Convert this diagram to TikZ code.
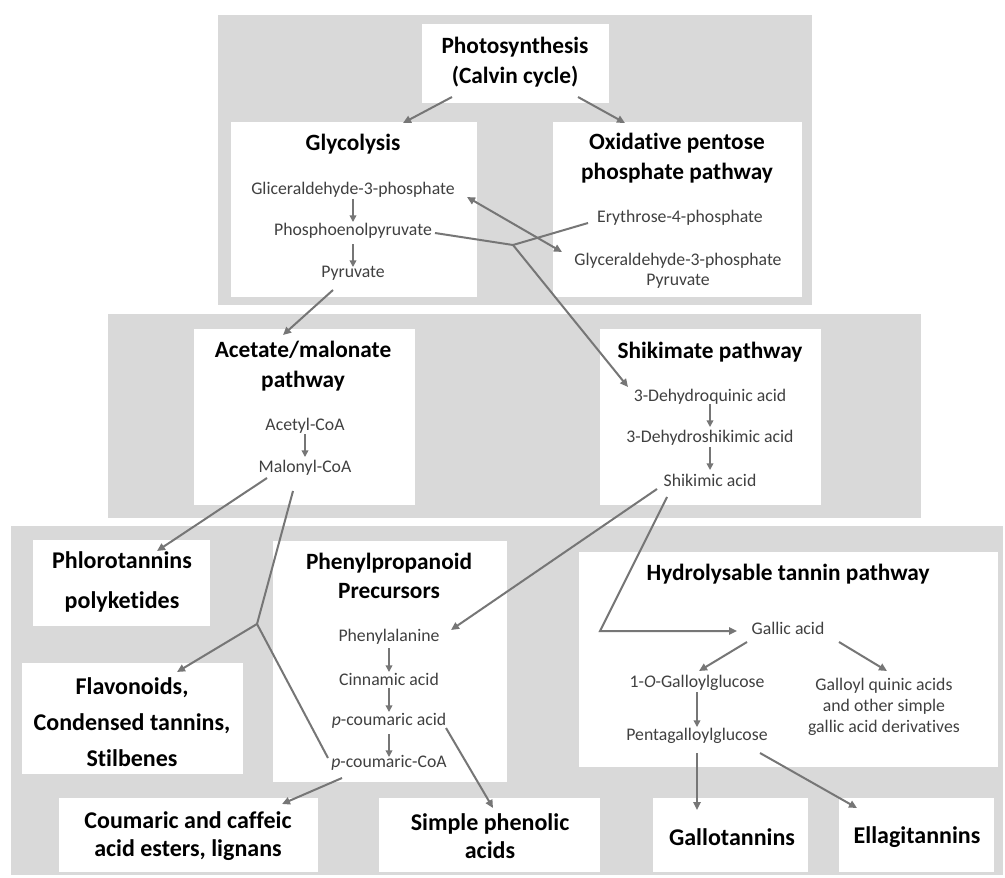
\documentclass[tikz,border=0pt]{standalone}
\usepackage{fontspec}
\setmainfont{Carlito}[RawFeature=-liga]
\usetikzlibrary{arrows.meta, calc}

\definecolor{panelgray}{RGB}{217,217,217}
\definecolor{textgray}{RGB}{64,64,64}
\definecolor{linegray}{RGB}{118,118,118}

\tikzset{
  panel/.style n args={2}{fill=panelgray, inner sep=0pt, minimum width=#1*0.75pt, minimum height=#2*0.75pt},
  wbox/.style n args={2}{fill=white, inner sep=0pt, minimum width=#1*0.75pt, minimum height=#2*0.75pt},
  title/.style={font=\fontsize{17.5}{22}\selectfont\bfseries, align=center, inner sep=0pt},
  endtitle/.style={font=\fontsize{18}{21}\selectfont\bfseries, align=center, inner sep=0pt},
  compound/.style={font=\fontsize{13.3}{15}\selectfont, text=textgray, align=center, inner sep=0pt},
  flow/.style={draw=linegray, line width=1.5pt, -{Triangle[length=6pt,width=5.5pt]}},
  link/.style={draw=linegray, line width=1.5pt},
  stepflow/.style={draw=linegray, line width=1.1pt, -{Triangle[length=5pt,width=5pt]}}
}

\begin{document}
\begin{tikzpicture}[x=0.75pt,y=0.75pt,yscale=-1,xscale=1]
\path[use as bounding box] (0,0) rectangle (1005,877);

% Panels
\node[panel={594}{290}] (toppanel) at (515,160) {};
\node[panel={813}{204}] (midpanel) at (514.5,416) {};
\node[panel={992}{349}] (botpanel) at (507,700.5) {};

% Boxes
\node[wbox={187}{79}] (photobox) at (515.5,63.5) {};
\node[wbox={246}{175}] (glycbox) at (354,209.5) {};
\node[wbox={249}{175}] (oxidbox) at (677.5,209.5) {};
\node[wbox={221}{176}] (acetbox) at (304.5,417) {};
\node[wbox={221}{176}] (shikbox) at (710.5,417) {};
\node[wbox={177}{86}] (phlobox) at (121.5,583) {};
\node[wbox={221}{111}] (flavbox) at (132.5,718.5) {};
\node[wbox={234}{241}] (phenbox) at (390,661.5) {};
\node[wbox={419}{215}] (hydrobox) at (788.5,659.5) {};
\node[wbox={259}{74}] (coumbox) at (188.5,835) {};
\node[wbox={221}{74}] (simpbox) at (489.5,835) {};
\node[wbox={155}{74}] (gallobox) at (730.5,835) {};
\node[wbox={155}{74}] (ellagbox) at (916.5,835) {};

% Titles
\node[title] (phototitle) at (515,62) {Photosynthesis\\(Calvin cycle)};
\node[title] (glyctitle) at (353,144) {Glycolysis};
\node[title] (oxidtitle) at (677,158) {Oxidative pentose\\phosphate pathway};
\node[title] (acettitle) at (303,366) {Acetate/malonate\\pathway};
\node[title] (shiktitle) at (710,352) {Shikimate pathway};
\node[title] (phentitle) at (389,576) {Phenylpropanoid\\Precursors};
\node[title] (hydrotitle) at (788,574) {Hydrolysable tannin pathway};
\node[endtitle, font=\fontsize{18}{30}\selectfont\bfseries] (phlotitle) at (122,582) {Phlorotannins\\polyketides};
\node[endtitle, font=\fontsize{18}{27}\selectfont\bfseries] (flavtitle) at (132,722) {Flavonoids,\\Condensed tannins,\\Stilbenes};
\node[endtitle] (coumtitle) at (188,836) {Coumaric and caffeic\\acid esters, lignans};
\node[endtitle] (simptitle) at (490,836) {Simple phenolic\\acids};
\node[endtitle] (gallotitle) at (732,837) {Gallotannins};
\node[endtitle] (ellagtitle) at (917,837) {Ellagitannins};

% Text Node
\node[compound] (g3p) at (353,190) {Gliceraldehyde-3-phosphate};
\node[compound] (pep) at (353,231) {Phosphoenolpyruvate};
\node[compound] (pyr) at (353,273) {Pyruvate};
\node[compound] (e4p) at (680,218) {Erythrose-4-phosphate};
\node[compound] (g3pb) at (678,271) {Glyceraldehyde-3-phosphate\\Pyruvate};
\node[compound] (acoa) at (305,426) {Acetyl-CoA};
\node[compound] (mcoa) at (305,468) {Malonyl-CoA};
\node[compound] (dhq) at (710,397) {3-Dehydroquinic acid};
\node[compound] (dhs) at (710,438) {3-Dehydroshikimic acid};
\node[compound] (shika) at (710,480) {Shikimic acid};
\node[compound] (phe) at (389,637) {Phenylalanine};
\node[compound] (cin) at (389,679) {Cinnamic acid};
\node[compound] (pca) at (389,721) {\textit{p}-coumaric acid};
\node[compound] (pcoa) at (389,763) {\textit{p}-coumaric-CoA};
\node[compound] (gal) at (788,628) {Gallic acid};
\node[compound] (gg) at (697,683) {1-\textit{O}-Galloylglucose};
\node[compound] (pgg) at (697,736) {Pentagalloylglucose};
\node[compound, font=\fontsize{13.3}{16}\selectfont] (gqa) at (884,707) {Galloyl quinic acids\\and other simple\\gallic acid derivatives};

% Junctions
\coordinate (j1) at (513,245);
\coordinate (j2) at (257,624);
\coordinate (bend) at (600,631);

%Straight Lines
\draw[flow] ($(photobox)+(-63.5,33.5)$) -- ($(glycbox)+(49,-86.5)$);
\draw[flow] ($(photobox)+(62.5,33.5)$) -- ($(oxidbox)+(-52.5,-86.5)$);
\draw[stepflow] ($(g3p)+(0,9)$) -- ($(pep)+(0,-9)$);
\draw[stepflow] ($(pep)+(0,13)$) -- ($(pyr)+(0,-6)$);
\draw[flow, {Triangle[length=6pt,width=5.5pt]}-{Triangle[length=6pt,width=5.5pt]}] ($(g3p)+(114,7)$) -- ($(g3pb)+(-116,-19)$);
\draw[link] ($(pep)+(82,2)$) -- (j1);
\draw[link] ($(e4p)+(-92,5)$) -- (j1);
\draw[flow] (j1) -- ($(dhq)+(-82,-10)$);
\draw[flow] ($(pyr)+(-20,17)$) -- ($(acetbox)+(-21.5,-82)$);
\draw[stepflow] ($(acoa)+(0,8)$) -- ($(mcoa)+(0,-11)$);
\draw[flow] ($(mcoa)+(-38,10)$) -- ($(phlobox)+(35.5,-32)$);
\draw[link] ($(mcoa)+(-12,23)$) -- (j2);
\draw[link] ($(pcoa)+(-61,-5)$) -- (j2);
\draw[flow] (j2) -- ($(flavbox)+(44.5,-46.5)$);
\draw[stepflow] ($(dhq)+(0,7)$) -- ($(dhs)+(0,-11)$);
\draw[stepflow] ($(dhs)+(0,9)$) -- ($(shika)+(0,-10)$);
\draw[flow] ($(shika)+(-53,9)$) -- ($(phe)+(62,-7)$);
\draw[flow] ($(shika)+(-43,17)$) -- (bend) -- ($(gal)+(-51,3)$);
\draw[stepflow] ($(phe)+(0,11)$) -- ($(cin)+(0,-7)$);
\draw[stepflow] ($(cin)+(0,9)$) -- ($(pca)+(0,-9)$);
\draw[stepflow] ($(pca)+(0,13)$) -- ($(pcoa)+(0,-6)$);
\draw[flow] ($(pcoa)+(-47,15)$) -- ($(coumbox)+(93.5,-31)$);
\draw[flow] ($(pca)+(57,7)$) -- ($(simpbox)+(3.5,-27)$);
\draw[flow] ($(gal)+(-41,14)$) -- ($(gg)+(2,-12)$);
\draw[flow] ($(gal)+(51,14)$) -- ($(gqa)+(3,-36)$);
\draw[stepflow] ($(gg)+(0,9)$) -- ($(pgg)+(0,-9)$);
\draw[flow] ($(pgg)+(0,17)$) -- ($(gallobox)+(-33.5,-25)$);
\draw[flow] ($(pgg)+(63,17)$) -- ($(ellagbox)+(-59.5,-27)$);

\end{tikzpicture}
\end{document}
